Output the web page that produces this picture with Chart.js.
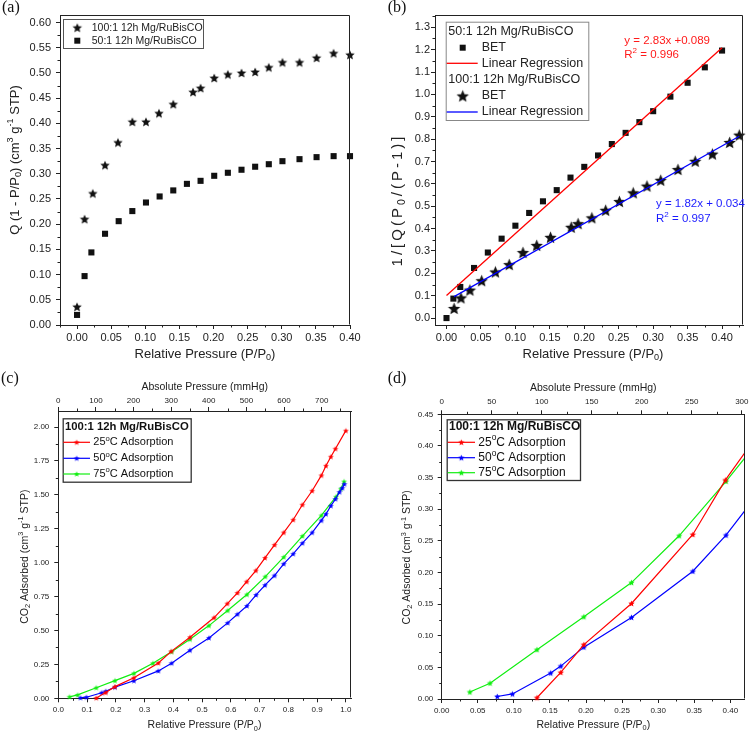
<!DOCTYPE html>
<html>
<head>
<meta charset="utf-8">
<script src="https://cdn.jsdelivr.net/npm/chart.js@4.4.1/dist/chart.umd.min.js"></script>
<style>
  html, body { margin: 0; padding: 0; background: #fff; }
  #wrap { position: relative; width: 750px; height: 732px; overflow: hidden; }
  canvas { position: absolute; }
</style>
</head>
<body>
<div id="wrap">
  <canvas id="chartA" width="375" height="366" style="left:0;top:0"></canvas>
  <canvas id="chartB" width="375" height="366" style="left:375px;top:0"></canvas>
  <canvas id="chartC" width="375" height="366" style="left:0;top:366px"></canvas>
  <canvas id="chartD" width="375" height="366" style="left:375px;top:366px"></canvas>
</div>
<script>
const SANS = '"Liberation Sans", Arial, sans-serif';
const SERIF = '"Liberation Serif", "Times New Roman", serif';
const INK = '#222';

// (a) Q(1-P/P0) vs relative pressure
const presA100 = [0.000, 0.011, 0.023, 0.041, 0.060, 0.081, 0.101, 0.120, 0.141, 0.170, 0.181, 0.201, 0.221, 0.241, 0.261, 0.281, 0.301, 0.326, 0.351, 0.376, 0.400];
const qA100 = [0.036, 0.210, 0.261, 0.317, 0.362, 0.403, 0.403, 0.420, 0.438, 0.462, 0.470, 0.490, 0.497, 0.500, 0.502, 0.511, 0.521, 0.521, 0.530, 0.539, 0.536];
const presA50 = [0.000, 0.011, 0.021, 0.041, 0.061, 0.081, 0.101, 0.121, 0.141, 0.161, 0.181, 0.201, 0.221, 0.241, 0.261, 0.281, 0.301, 0.326, 0.351, 0.376, 0.400];
const qA50 = [0.020, 0.097, 0.144, 0.181, 0.206, 0.226, 0.243, 0.255, 0.267, 0.280, 0.286, 0.296, 0.302, 0.308, 0.314, 0.319, 0.325, 0.329, 0.333, 0.335, 0.335];

// (b) BET plots and their fitted lines
const presB50 = [0.000, 0.010, 0.020, 0.040, 0.060, 0.080, 0.100, 0.120, 0.140, 0.160, 0.180, 0.200, 0.220, 0.240, 0.260, 0.280, 0.300, 0.325, 0.350, 0.375, 0.400];
const betB50 = [0.000, 0.087, 0.139, 0.224, 0.293, 0.355, 0.413, 0.470, 0.522, 0.572, 0.628, 0.676, 0.727, 0.778, 0.828, 0.876, 0.925, 0.990, 1.052, 1.121, 1.196];
const presB100 = [0.011, 0.021, 0.034, 0.051, 0.071, 0.091, 0.111, 0.131, 0.151, 0.181, 0.191, 0.211, 0.231, 0.251, 0.271, 0.291, 0.311, 0.336, 0.361, 0.386, 0.411, 0.425];
const betB100 = [0.043, 0.090, 0.125, 0.167, 0.206, 0.239, 0.293, 0.325, 0.361, 0.406, 0.422, 0.448, 0.482, 0.521, 0.560, 0.590, 0.616, 0.664, 0.701, 0.733, 0.785, 0.818];
const fitX50 = [0.000, 0.400];
const fitY50 = [0.101, 1.209];
const fitX100 = [0.011, 0.425];
const fitY100 = [0.096, 0.813];

// (c) and (d) CO2 isotherms (d is a zoom of c)
const pres25 = [0.132, 0.165, 0.197, 0.263, 0.348, 0.393, 0.458, 0.542, 0.588, 0.623, 0.655, 0.687, 0.719, 0.752, 0.784, 0.817, 0.849, 0.883, 0.915, 0.931, 0.948, 0.964, 1.000];
const ads25 = [0.002, 0.042, 0.086, 0.151, 0.260, 0.346, 0.450, 0.595, 0.698, 0.777, 0.860, 0.942, 1.035, 1.131, 1.222, 1.316, 1.427, 1.530, 1.643, 1.714, 1.781, 1.840, 1.973];
const pres50 = [0.077, 0.098, 0.151, 0.165, 0.197, 0.263, 0.348, 0.394, 0.458, 0.524, 0.589, 0.623, 0.656, 0.688, 0.719, 0.752, 0.784, 0.817, 0.849, 0.883, 0.915, 0.931, 0.948, 0.964, 0.978, 0.988, 0.995];
const ads50 = [0.004, 0.008, 0.041, 0.052, 0.082, 0.129, 0.202, 0.259, 0.354, 0.445, 0.556, 0.620, 0.681, 0.762, 0.834, 0.905, 0.991, 1.065, 1.144, 1.222, 1.311, 1.358, 1.419, 1.469, 1.520, 1.550, 1.579];
const pres75 = [0.039, 0.067, 0.132, 0.197, 0.263, 0.329, 0.394, 0.458, 0.524, 0.589, 0.656, 0.720, 0.784, 0.849, 0.915, 0.966, 0.983, 0.994];
const ads75 = [0.011, 0.025, 0.078, 0.130, 0.184, 0.258, 0.344, 0.435, 0.536, 0.647, 0.765, 0.897, 1.041, 1.196, 1.348, 1.486, 1.545, 1.598];

const isoLabels = [['25', ['o', 'sup'], 'C Adsorption'], ['50', ['o', 'sup'], 'C Adsorption'], ['75', ['o', 'sup'], 'C Adsorption']];
const isoColors = ['#ff0000', '#0000ff', '#11ee11'];

function pts(xs, ys) {
  return xs.map((x, i) => ({ x, y: ys[i] }));
}

function makeStar(radius, color) {
  const size = Math.ceil(radius * 2 + 2);
  const c = document.createElement('canvas');
  c.width = size;
  c.height = size;
  const ctx = c.getContext('2d');
  ctx.translate(size / 2, size / 2 + radius * 0.08);
  ctx.beginPath();
  for (let i = 0; i < 10; i++) {
    const r = i % 2 === 0 ? radius : radius * 0.45;
    const a = -Math.PI / 2 + i * Math.PI / 5;
    ctx.lineTo(r * Math.cos(a), r * Math.sin(a));
  }
  ctx.closePath();
  ctx.fillStyle = color;
  ctx.fill();
  return c;
}

// text with sub/superscripts: parts are strings or [text, 'sub'|'sup']
function rich(ctx, parts, x, y, size, opts = {}) {
  const { align = 'center', rotate = false, bold = false, color = INK, family = SANS, spacing = 0 } = opts;
  const weight = bold ? 'bold ' : '';
  ctx.save();
  if (spacing) ctx.letterSpacing = spacing + 'px';
  const pieces = parts.map((p) => {
    const [t, mode] = Array.isArray(p) ? p : [p, ''];
    const fs = mode ? size * 0.7 : size;
    const dy = mode === 'sub' ? size * 0.3 : mode === 'sup' ? -size * 0.35 : 0;
    return { t, font: `${weight}${fs}px ${family}`, dy };
  });
  let total = 0;
  pieces.forEach((p) => {
    ctx.font = p.font;
    p.w = ctx.measureText(p.t).width;
    total += p.w;
  });
  ctx.translate(x, y);
  if (rotate) ctx.rotate(-Math.PI / 2);
  let cx = align === 'center' ? -total / 2 : align === 'right' ? -total : 0;
  ctx.fillStyle = color;
  ctx.textBaseline = 'middle';
  ctx.textAlign = 'left';
  pieces.forEach((p) => {
    ctx.font = p.font;
    ctx.fillText(p.t, cx, p.dy);
    cx += p.w;
  });
  ctx.restore();
}

function linAxis({ min, max, step, pos, fit, pad, size, digits, tick = 5, labels = true }) {
  return {
    type: 'linear',
    position: pos,
    min,
    max,
    afterFit: (s) => {
      if (pos === 'left' || pos === 'right') s.width = fit;
      else s.height = fit;
    },
    afterBuildTicks: (s) => {
      const k0 = Math.ceil(min / step - 1e-6);
      const k1 = Math.floor(max / step + 1e-6);
      const ticks = [];
      for (let k = k0; k <= k1; k++) ticks.push({ value: Number((k * step).toFixed(6)) });
      s.ticks = ticks;
    },
    grid: { drawOnChartArea: false, drawTicks: true, tickLength: tick, color: INK, lineWidth: 1 },
    border: { display: true, color: INK, width: 1 },
    ticks: {
      display: labels,
      stepSize: step,
      autoSkip: false,
      maxRotation: 0,
      padding: pad,
      color: INK,
      font: { family: SANS, size },
      callback: (v) => Math.abs(v).toFixed(digits),
    },
    title: { display: false },
  };
}

// tick labels of the top (absolute pressure) axis
function topLabels(ctx, chart, gap, size) {
  const s = chart.scales.x2;
  s.ticks.forEach((t) => {
    rich(ctx, [String(t.value)], s.getPixelForValue(t.value), s.bottom - gap, size);
  });
}

function panelPlugin(minor, drawExtra) {
  return {
    id: 'panelDecor',
    afterDraw(chart) {
      const ctx = chart.ctx;
      const a = chart.chartArea;
      ctx.save();
      ctx.strokeStyle = INK;
      ctx.lineWidth = 1;
      ctx.beginPath();
      ctx.moveTo(Math.round(a.left) + 0.5, Math.round(a.top) + 0.5);
      ctx.lineTo(Math.round(a.right) - 0.5, Math.round(a.top) + 0.5);
      ctx.lineTo(Math.round(a.right) - 0.5, Math.round(a.bottom) - 0.5);
      ctx.stroke();
      minor.forEach(([id, step, len]) => {
        const s = chart.scales[id];
        const majors = s.ticks.map((t) => t.value);
        const k0 = Math.ceil(s.min / step - 1e-6);
        const k1 = Math.floor(s.max / step + 1e-6);
        ctx.beginPath();
        for (let k = k0; k <= k1; k++) {
          const v = k * step;
          if (majors.some((m) => Math.abs(m - v) < step * 0.01)) continue;
          const p = Math.round(s.getPixelForValue(v)) + 0.5;
          if (s.position === 'bottom') { ctx.moveTo(p, s.top); ctx.lineTo(p, s.top + len); }
          else if (s.position === 'top') { ctx.moveTo(p, s.bottom); ctx.lineTo(p, s.bottom - len); }
          else { ctx.moveTo(s.right, p); ctx.lineTo(s.right - len, p); }
        }
        ctx.stroke();
      });
      ctx.restore();
      drawExtra(ctx, chart);
    },
  };
}

function legendBox(ctx, x0, y0, x1, y1, color, width) {
  ctx.save();
  ctx.fillStyle = '#fff';
  ctx.fillRect(x0, y0, x1 - x0, y1 - y0);
  ctx.strokeStyle = color;
  ctx.lineWidth = width;
  ctx.strokeRect(x0 + 0.5, y0 + 0.5, x1 - x0, y1 - y0);
  ctx.restore();
}

function baseOptions(padding, scales) {
  return {
    responsive: false,
    animation: false,
    devicePixelRatio: 1,
    events: [],
    layout: { padding },
    plugins: { legend: { display: false }, tooltip: { enabled: false } },
    scales,
  };
}

// ---------- (a) ----------
const starA = makeStar(5, '#111');
new Chart(document.getElementById('chartA'), {
  type: 'scatter',
  data: {
    datasets: [
      { data: pts(presA100, qA100), pointStyle: starA, pointRadius: 5, clip: false },
      { data: pts(presA50, qA50), pointStyle: 'rect', pointRadius: 4.3, backgroundColor: '#111', borderWidth: 0, clip: false },
    ],
  },
  options: baseOptions({ top: 15, right: 25, bottom: 0, left: 0 }, {
    x: linAxis({ min: -0.025, max: 0.4, step: 0.05, pos: 'bottom', fit: 41, pad: 2, size: 11, digits: 2, tick: 4 }),
    y: linAxis({ min: 0, max: 0.615, step: 0.05, pos: 'left', fit: 60, pad: 5, size: 11, digits: 2, tick: 4 }),
  }),
  plugins: [panelPlugin([['x', 0.025, 2.5], ['y', 0.025, 2.5]], (ctx) => {
    rich(ctx, ['(a)'], 2, 8, 16, { align: 'left', family: SERIF, color: '#111' });
    rich(ctx, ['Relative Pressure (P/P', ['0', 'sub'], ')'], 205, 354, 13);
    rich(ctx, ['Q (1 - P/P', ['0', 'sub'], ') (cm', ['3', 'sup'], ' g', ['-1', 'sup'], ' STP)'], 15, 160, 13, { rotate: true });
    legendBox(ctx, 63, 19, 203, 48, '#555', 1);
    ctx.drawImage(starA, 77.3 - starA.width / 2, 27.7 - starA.height / 2);
    rich(ctx, ['100:1 12h Mg/RuBisCO'], 91.7, 27.7, 10.5, { align: 'left' });
    ctx.fillStyle = '#111';
    ctx.fillRect(74.3, 37.7, 6, 6);
    rich(ctx, ['50:1 12h Mg/RuBisCO'], 91.7, 40.7, 10.5, { align: 'left' });
  })],
});

// ---------- (b) ----------
const starB = makeStar(6.5, '#111');
new Chart(document.getElementById('chartB'), {
  type: 'scatter',
  data: {
    datasets: [
      { data: pts(fitX50, fitY50), showLine: true, borderColor: '#ff0000', borderWidth: 1.3, pointRadius: 0, clip: false },
      { data: pts(fitX100, fitY100), showLine: true, borderColor: '#0000ff', borderWidth: 1.3, pointRadius: 0, clip: false },
      { data: pts(presB50, betB50), pointStyle: 'rect', pointRadius: 4.3, backgroundColor: '#111', borderWidth: 0, clip: false },
      { data: pts(presB100, betB100), pointStyle: starB, pointRadius: 6, clip: false },
    ],
  },
  options: baseOptions({ top: 15, right: 2.3, bottom: 0, left: 0 }, {
    x: linAxis({ min: -0.0167, max: 0.4304, step: 0.05, pos: 'bottom', fit: 41, pad: 2, size: 11, digits: 2, tick: 4 }),
    y: linAxis({ min: -0.031, max: 1.355, step: 0.1, pos: 'left', fit: 60, pad: 1, size: 11, digits: 1, tick: 4 }),
  }),
  plugins: [panelPlugin([['x', 0.025, 2.5], ['y', 0.05, 2.5]], (ctx) => {
    rich(ctx, ['(b)'], 12.7, 8, 16, { align: 'left', family: SERIF, color: '#111' });
    rich(ctx, ['Relative Pressure (P/P', ['0', 'sub'], ')'], 218, 354, 13);
    rich(ctx, ['1/[Q(P', ['0', 'sub'], '/(P-1)]'], 23, 200, 15, { rotate: true, spacing: 3 });
    legendBox(ctx, 70.7, 21.7, 213.3, 120, '#888', 1);
    rich(ctx, ['50:1 12h Mg/RuBisCO'], 73.3, 31.7, 12.5, { align: 'left' });
    ctx.fillStyle = '#111';
    ctx.fillRect(84.7, 44.7, 6, 6);
    rich(ctx, ['BET'], 106.7, 47.7, 12.5, { align: 'left' });
    ctx.strokeStyle = '#ff0000';
    ctx.lineWidth = 1.3;
    ctx.beginPath(); ctx.moveTo(71.7, 63.3); ctx.lineTo(102.7, 63.3); ctx.stroke();
    rich(ctx, ['Linear Regression'], 106.7, 63.3, 12.5, { align: 'left' });
    rich(ctx, ['100:1 12h Mg/RuBisCO'], 73.3, 80, 12.5, { align: 'left' });
    ctx.drawImage(starB, 87.7 - starB.width / 2, 96 - starB.height / 2);
    rich(ctx, ['BET'], 106.7, 96, 12.5, { align: 'left' });
    ctx.strokeStyle = '#0000ff';
    ctx.beginPath(); ctx.moveTo(71.7, 112); ctx.lineTo(102.7, 112); ctx.stroke();
    rich(ctx, ['Linear Regression'], 106.7, 112, 12.5, { align: 'left' });
    rich(ctx, ['y = 2.83x +0.089'], 249.3, 40.7, 11.5, { align: 'left', color: '#ff1a1a' });
    rich(ctx, ['R', ['2', 'sup'], ' = 0.996'], 249.3, 55, 11.5, { align: 'left', color: '#ff1a1a' });
    rich(ctx, ['y = 1.82x + 0.034'], 281, 204, 11.5, { align: 'left', color: '#1a1aff' });
    rich(ctx, ['R', ['2', 'sup'], ' = 0.997'], 281, 219, 11.5, { align: 'left', color: '#1a1aff' });
  })],
});

// ---------- (c) and (d) ----------
function isoDatasets(radius) {
  const stars = isoColors.map((c) => makeStar(radius, c));
  const sets = [[pres25, ads25], [pres50, ads50], [pres75, ads75]];
  return {
    stars,
    datasets: sets.map(([xs, ys], i) => ({
      data: pts(xs, ys),
      showLine: true,
      borderColor: isoColors[i],
      borderWidth: 1.2,
      tension: 0,
      pointStyle: stars[i],
      pointRadius: radius,
      xAxisID: 'x',
      clip: { left: 6, top: 6, right: 0, bottom: 6 },
    })),
  };
}

function isoLegend(ctx, stars, box, hx, hy, rows, lx0, lx1, tx, size, headSize) {
  legendBox(ctx, box[0], box[1], box[2], box[3], '#333', 1.3);
  rich(ctx, ['100:1 12h Mg/RuBisCO'], hx, hy, headSize, { align: 'left', bold: true, color: '#111' });
  rows.forEach((y, i) => {
    ctx.save();
    ctx.strokeStyle = isoColors[i];
    ctx.lineWidth = 1.2;
    ctx.beginPath(); ctx.moveTo(lx0, y); ctx.lineTo(lx1, y); ctx.stroke();
    ctx.restore();
    ctx.drawImage(stars[i], (lx0 + lx1) / 2 - stars[i].width / 2, y - stars[i].height / 2);
    rich(ctx, isoLabels[i], tx, y, size, { align: 'left', color: '#111' });
  });
}

const isoC = isoDatasets(3);
new Chart(document.getElementById('chartC'), {
  type: 'scatter',
  data: { datasets: isoC.datasets },
  options: baseOptions({ top: 0, right: 24, bottom: 0, left: 0 }, {
    x: linAxis({ min: 0, max: 1.018, step: 0.1, pos: 'bottom', fit: 33.7, pad: 3, size: 8, digits: 1, tick: 4 }),
    x2: linAxis({ min: 0, max: 778, step: 100, pos: 'top', fit: 45, pad: 1, size: 8, digits: 0, tick: 4, labels: false }),
    y: linAxis({ min: 0, max: 2.118, step: 0.25, pos: 'left', fit: 58.3, pad: 5, size: 8, digits: 2, tick: 4 }),
  }),
  plugins: [panelPlugin([['x', 0.05, 2.5], ['x2', 50, 2.5], ['y', 0.125, 2.5]], (ctx, chart) => {
    topLabels(ctx, chart, 10, 8);
    rich(ctx, ['(c)'], 1, 13, 16, { align: 'left', family: SERIF, color: '#111' });
    rich(ctx, ['Absolute Pressure (mmHg)'], 204.7, 20.7, 10.5);
    rich(ctx, ['Relative Pressure (P/P', ['0', 'sub'], ')'], 204.5, 359.5, 10.5);
    rich(ctx, ['CO', ['2', 'sub'], ' Adsorbed (cm', ['3', 'sup'], ' g', ['-1', 'sup'], ' STP)'], 25, 190.7, 10.5, { rotate: true });
    isoLegend(ctx, isoC.stars, [62.7, 52.3, 190.7, 115.7], 65, 60.7, [76.3, 92.3, 108], 63.3, 90, 93.3, 11, 11.3);
  })],
});

const isoD = isoDatasets(3.3);
new Chart(document.getElementById('chartD'), {
  type: 'scatter',
  data: { datasets: isoD.datasets },
  options: baseOptions({ top: 0, right: 5, bottom: 0, left: 0 }, {
    x: linAxis({ min: 0, max: 0.42, step: 0.05, pos: 'bottom', fit: 33, pad: 3, size: 8, digits: 2, tick: 4 }),
    x2: linAxis({ min: 0, max: 303, step: 50, pos: 'top', fit: 48.3, pad: 4.5, size: 8, digits: 0, tick: 4, labels: false }),
    y: linAxis({ min: 0, max: 0.45, step: 0.05, pos: 'left', fit: 66.7, pad: 4.4, size: 8, digits: 2, tick: 4 }),
  }),
  plugins: [panelPlugin([['x', 0.025, 2.5], ['x2', 25, 2.5], ['y', 0.025, 2.5]], (ctx, chart) => {
    topLabels(ctx, chart, 12.6, 8);
    rich(ctx, ['(d)'], 12.7, 13, 16, { align: 'left', family: SERIF, color: '#111' });
    rich(ctx, ['Absolute Pressure (mmHg)'], 218.3, 22, 10.5);
    rich(ctx, ['Relative Pressure (P/P', ['0', 'sub'], ')'], 218.3, 359, 10.5);
    rich(ctx, ['CO', ['2', 'sub'], ' Adsorbed (cm', ['3', 'sup'], ' g', ['-1', 'sup'], ' STP)'], 32.3, 191.3, 10.5, { rotate: true });
    isoLegend(ctx, isoD.stars, [71.7, 53.3, 205, 114], 74, 61, [76.3, 91.7, 106.7], 72.7, 100, 103.3, 12, 12);
  })],
});
</script>
</body>
</html>
